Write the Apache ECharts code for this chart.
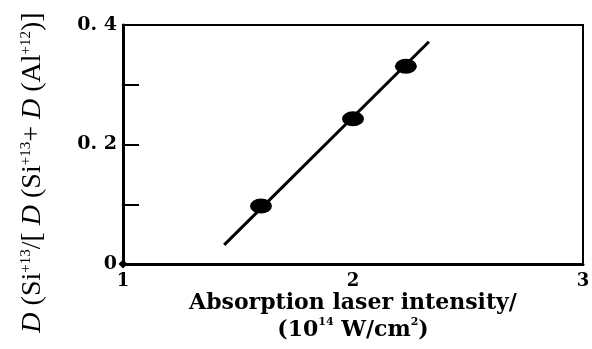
<!DOCTYPE html>
<html>
<head>
<meta charset="utf-8">
<script src="https://cdn.jsdelivr.net/npm/echarts@6/dist/echarts.min.js"></script>
<style>html,body{margin:0;padding:0;background:#fff;}#c{width:592px;height:349px;}</style>
</head>
<body>
<div id="c"></div>
<script>
// Data
const pointX = [1.6, 2.0, 2.23];
const pointY = [0.097, 0.243, 0.331];
const fitX = [1.44, 2.33];
const fitY = [0.032, 0.372];
const originX = [1];
const originY = [0];
const xTickLabels = ['1', '2', '3'];
const yTickLabels = ['0', '', '0. 2', '', '0. 4'];

const chart = echarts.init(document.getElementById('c'), null, {renderer: 'canvas'});
const serif = 'DejaVu Serif';
chart.setOption({
  animation: false,
  backgroundColor: '#fff',
  grid: {left: 123, right: 9, top: 25, bottom: 85, show: true, borderColor: '#000', borderWidth: 2,
         outerBoundsMode: 'none', containLabel: false},
  xAxis: {
    type: 'value', min: 1, max: 3, interval: 1,
    axisLine: {lineStyle: {color: '#000', width: 3}},
    axisTick: {show: false},
    splitLine: {show: false},
    axisLabel: {
      color: '#000', fontFamily: serif, fontWeight: 'bold', fontSize: 18, margin: 8,
      formatter: (v, i) => xTickLabels[i]
    },
    name: 'Absorption laser intensity/\n(10{s|14} W/cm{s|2})',
    nameLocation: 'middle', nameGap: 26, nameMoveOverlap: false,
    nameTextStyle: {
      color: '#000', fontFamily: serif, fontWeight: 'bold', fontSize: 22, lineHeight: 27,
      rich: {s: {fontFamily: serif, fontWeight: 'bold', fontSize: 11, verticalAlign: 'top', lineHeight: 27, color: '#000'}}
    }
  },
  yAxis: {
    type: 'value', min: 0, max: 0.4, interval: 0.1,
    axisLine: {show: true, lineStyle: {color: '#000', width: 3}},
    axisTick: {show: true, inside: true, length: 16, lineStyle: {color: '#000', width: 2}},
    splitLine: {show: false},
    axisLabel: {
      color: '#000', fontFamily: serif, fontWeight: 'bold', fontSize: 19, margin: 6,
      formatter: (v, i) => yTickLabels[i]
    },
    name: '{i|D} (Si{s|+13}/[ {i|D} (Si{s|+13}+ {i|D} (Al{s|+12})]',
    nameLocation: 'middle', nameGap: 76, nameRotate: 90, nameMoveOverlap: false,
    nameTextStyle: {
      color: '#000', fontFamily: 'Liberation Serif', fontSize: 28, lineHeight: 28,
      padding: [0, 56, 0, 0],
      rich: {
        i: {fontFamily: 'Liberation Serif', fontStyle: 'italic', fontSize: 28, lineHeight: 28, color: '#000'},
        s: {fontFamily: 'Liberation Serif', fontSize: 15, verticalAlign: 'top', lineHeight: 28, color: '#000'}
      }
    }
  },
  series: [
    {
      type: 'line', data: fitX.map((x, i) => [x, fitY[i]]),
      symbol: 'none', lineStyle: {color: '#000', width: 3}, z: 2
    },
    {
      type: 'scatter', data: pointX.map((x, i) => [x, pointY[i]]),
      symbol: 'circle', symbolSize: [22, 15], itemStyle: {color: '#000', opacity: 1}, z: 3
    },
    {
      type: 'scatter', data: originX.map((x, i) => [x, originY[i]]),
      symbol: 'diamond', symbolSize: 9, itemStyle: {color: '#000', opacity: 1}, z: 3
    }
  ]
});
</script>
</body>
</html>
